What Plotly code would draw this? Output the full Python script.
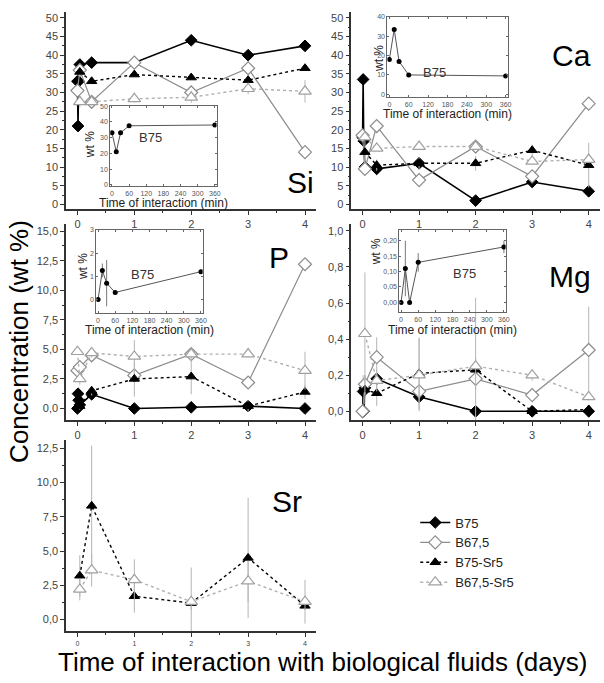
import plotly.graph_objects as go

W, H = 604, 683

# ---------------- data ----------------
# common time axis (days): 0, 15 min, 30 min, 1 h, 6 h, 1, 2, 3, 4 days
T_DAYS = [0, 0.0104, 0.0208, 0.0417, 0.25, 1, 2, 3, 4]
INSET_MIN = [0, 15, 30, 60, 360]
SERIES = ["B75", "B67,5", "B75-Sr5", "B67,5-Sr5"]

# Si
SI_B75 = [33, 21, 33, 37.5, 38, 38, 44, 40, 42.5]
SI_B675 = [30.5, None, None, 36, 27.5, 38, 30, 36.5, 14]
SI_B75SR = [None, None, None, 35.5, 33, 34.8, 34, 33.3, 36.5]
SI_B675SR = [None, None, None, 27.5, 27.5, 28.3, 28.7, 31, 30.3]
SI_ERR_B675SR = [0, 0, 0, 1.5, 1, 1, 1.5, 1.5, 3]

# Ca
CA_B75 = [18, 33.5, 17, 10, 9.5, 11, 1, 6, 3.5]
CA_B675 = [18.5, None, None, 9.5, 21, 6.5, 15.5, 7.5, 27]
CA_B75SR = [None, None, None, 14, 10.5, 11, 11, 14.5, 10.5]
CA_B675SR = [None, None, None, 18, 15, 15.5, 15.5, 11.5, 12]
CA_ERR_B75SR = [0, 0, 0, 3, 1.5, 1.5, 2, 1.5, 6]

# P
P_B75 = [0, 1.25, 0.7, 0.3, 1.2, 0, 0.1, 0.2, 0]
P_B675 = [3.2, None, None, 3.5, 4.5, 2.8, 4.6, 2.2, 12.2]
P_B75SR = [None, None, None, 0.2, 1.5, 2.5, 2.7, 0.2, 1.4]
P_B675SR = [4.8, None, None, 2.5, 4.7, 4.4, 4.6, 4.6, 3.2]
P_ERR_B75SR = [0, 0, 0, 0.3, 0.4, 1.5, 1.5, 0.5, 0.6]
P_ERR_B675SR = [0, 0, 0, 0.5, 0.4, 1.4, 0.6, 0.3, 1.6]

# Mg
MG_B75 = [0, 0.11, 0, 0.13, 0.18, 0.08, 0, 0, 0]
MG_B675 = [0.0, None, None, 0.15, 0.3, 0.11, 0.18, 0.09, 0.34]
MG_B75SR = [None, None, None, 0.12, 0.1, 0.21, 0.23, 0, 0.01]
MG_B675SR = [None, None, None, 0.43, 0.17, 0.2, 0.25, 0.2, 0.08]
MG_ERR_B75 = [0, 0.09, 0, 0.03, 0.02, 0, 0, 0, 0]
MG_ERR_B675 = [0, 0, 0, 0.05, 0.11, 0, 0.06, 0, 0.24]
MG_ERR_B75SR = [0, 0, 0, 0.08, 0.07, 0.2, 0.4, 0, 0]
MG_ERR_B675SR = [0, 0, 0, 0.34, 0.06, 0.2, 0.05, 0.03, 0.02]

# Sr
SR_B75SR = [None, None, None, 3.2, 8.3, 1.7, 1.2, 4.5, 1.0]
SR_B675SR = [None, None, None, 2.2, 3.6, 2.9, 1.3, 2.8, 1.3]
SR_ERR_B75SR = [0, 0, 0, 1.5, 4.4, 1.2, 0.5, 4.4, 0.3]
SR_ERR_B675SR = [0, 0, 0, 0.8, 1.2, 1.5, 2.5, 1.5, 1.6]

P_INSET_ERR = [0, 0.3, 1.0, 0.1, 0.1]
MG_INSET_ERR = [0, 0.09, 0, 0.03, 0.02]

# ---------------- styling ----------------
STYLE = {
    "B75": dict(line=dict(color="black", width=1.6, dash="solid"),
                marker=dict(symbol="diamond", size=9, color="black",
                            line=dict(color="black", width=1))),
    "B67,5": dict(line=dict(color="#8c8c8c", width=1.2, dash="solid"),
                  marker=dict(symbol="diamond", size=10, color="white",
                              line=dict(color="#8c8c8c", width=1.2))),
    "B75-Sr5": dict(line=dict(color="black", width=1.4, dash="dot"),
                    marker=dict(symbol="triangle-up", size=9, color="black",
                                line=dict(color="black", width=1))),
    "B67,5-Sr5": dict(line=dict(color="#b0b0b0", width=1.4, dash="dot"),
                      marker=dict(symbol="triangle-up", size=11, color="white",
                                  line=dict(color="#a0a0a0", width=1.2))),
}


def dom_x(a, b):
    return [a / W, min(b / W, 1.0)]


def dom_y(bottom, top):
    return [1 - bottom / H, 1 - top / H]


fig = go.Figure()

# main panels: (key, xdom px, ydom px, yrange, dtick, fmt, x tick size)
PANELS = [
    ("Si", (66.5, 318.5), (207, 8), [-1.3, 51.6], 5, "d", 11),
    ("Ca", (353.6, 604), (207, 8), [-1.3, 51.6], 5, "d", 11),
    ("P", (66.5, 318.5), (420, 222), [-1.0, 15.6], 2.5, ".1f", 11),
    ("Mg", (353.6, 604), (420, 222), [-0.05, 1.038], 0.2, ".1f", 11),
    ("Sr", (66.5, 318.5), (633, 440), [-0.87, 13.1], 2.5, ".1f", 7),
]
PANEL_DATA = {
    "Si": [("B75", SI_B75, None), ("B67,5", SI_B675, None),
           ("B75-Sr5", SI_B75SR, None), ("B67,5-Sr5", SI_B675SR, SI_ERR_B675SR)],
    "Ca": [("B75", CA_B75, None), ("B67,5", CA_B675, None),
           ("B75-Sr5", CA_B75SR, CA_ERR_B75SR), ("B67,5-Sr5", CA_B675SR, None)],
    "P": [("B75", P_B75, None), ("B67,5", P_B675, None),
          ("B75-Sr5", P_B75SR, P_ERR_B75SR), ("B67,5-Sr5", P_B675SR, P_ERR_B675SR)],
    "Mg": [("B75", MG_B75, MG_ERR_B75), ("B67,5", MG_B675, MG_ERR_B675),
           ("B75-Sr5", MG_B75SR, MG_ERR_B75SR), ("B67,5-Sr5", MG_B675SR, MG_ERR_B675SR)],
    "Sr": [("B75-Sr5", SR_B75SR, SR_ERR_B75SR), ("B67,5-Sr5", SR_B675SR, SR_ERR_B675SR)],
}
LABEL_POS = {"Si": (302, 180), "Ca": (575, 52), "P": (281, 256), "Mg": (574, 275), "Sr": (289, 502)}

FONT = "Liberation Sans, Arial, sans-serif"
annotations = []
layout_axes = {}

for i, (key, xd, yd, yr, dt, fmt, xts) in enumerate(PANELS, start=1):
    xa = "xaxis" if i == 1 else f"xaxis{i}"
    ya = "yaxis" if i == 1 else f"yaxis{i}"
    xr = "x" if i == 1 else f"x{i}"
    yrf = "y" if i == 1 else f"y{i}"
    layout_axes[xa] = dict(domain=dom_x(*xd), range=[-0.2, 4.2], anchor=yrf,
                           tickvals=[0, 1, 2, 3, 4], showline=True, linecolor="#333",
                           linewidth=1.5, ticks="outside", ticklen=4, tickcolor="#333",
                           showgrid=False, zeroline=False,
                           minor=dict(ticks="outside", ticklen=2, dtick=0.5, tickcolor="#333"),
                           tickfont=dict(size=xts, color="#444", family=FONT))
    layout_axes[ya] = dict(domain=dom_y(*yd), range=yr, anchor=xr, dtick=dt, tick0=0,
                           tickformat=fmt, showline=True, linecolor="#333", linewidth=1.5,
                           ticks="outside", ticklen=4, tickcolor="#333", showgrid=False,
                           zeroline=False,
                           minor=dict(ticks="outside", ticklen=2, dtick=dt / 2, tickcolor="#333"),
                           tickfont=dict(size=11, color="#444", family=FONT))
    for name, vals, err in PANEL_DATA[key]:
        st = STYLE[name]
        tr = dict(x=T_DAYS, y=vals, mode="lines+markers", name=name, legendgroup=name,
                  showlegend=(key == "Si"), connectgaps=True, xaxis=xr, yaxis=yrf,
                  line=st["line"], marker=st["marker"], cliponaxis=False)
        if err is not None:
            tr["error_y"] = dict(type="data", array=err, visible=True,
                                 color="#b5b5b5", thickness=1, width=0)
        fig.add_trace(go.Scatter(**tr))
    lx, ly = LABEL_POS[key]
    annotations.append(dict(x=lx / W, y=1 - ly / H, xref="paper", yref="paper",
                            text=key, showarrow=False, xanchor="center", yanchor="middle",
                            font=dict(size=30, color="black", family=FONT)))

# insets: (panel data, err, xdom px, ydom px, yrange, dtick, fmt, B75 label pos, title y, wt% pos)
INSETS = [
    (SI_B75, None, (111, 218), (184, 103), [-1, 50], 10, "d", (152, 135), 201, (90, 142)),
    (CA_B75, None, (390, 511), (94, 13), [-1.5, 40], 10, "d", (437, 69), 111, (381, 55)),
    (P_B75, P_INSET_ERR, (97, 204), (312, 228), [-0.6, 3], 1, "d", (143, 273), 329, (83, 265)),
    (MG_B75, MG_INSET_ERR, (402, 509), (311, 228), [-0.032, 0.235], 0.05, ".2f", (468, 272), 329, (378, 250)),
]
for j, (vals, err, xd, yd, yr, dt, fmt, lab, ty, wp) in enumerate(INSETS, start=6):
    xa, ya = f"xaxis{j}", f"yaxis{j}"
    xr, yrf = f"x{j}", f"y{j}"
    layout_axes[xa] = dict(domain=dom_x(*xd), range=[-6, 366], anchor=yrf,
                           tickvals=[0, 60, 120, 180, 240, 300, 360], showline=True,
                           mirror="allticks", linecolor="#666", linewidth=1, ticks="inside",
                           ticklen=2, tickcolor="#666", showgrid=False, zeroline=False,
                           tickfont=dict(size=7, color="#555", family=FONT))
    layout_axes[ya] = dict(domain=dom_y(*yd), range=yr, anchor=xr, dtick=dt, tick0=0,
                           tickformat=fmt, showline=True, mirror="allticks", linecolor="#666",
                           linewidth=1, ticks="inside", ticklen=2, tickcolor="#666",
                           showgrid=False, zeroline=False,
                           tickfont=dict(size=7, color="#555", family=FONT))
    tr = dict(x=INSET_MIN, y=vals[:5], mode="lines+markers", showlegend=False,
              xaxis=xr, yaxis=yrf, line=dict(color="#555", width=1),
              marker=dict(symbol="circle", size=5, color="black"))
    if err is not None:
        tr["error_y"] = dict(type="data", array=err, visible=True, color="#777",
                             thickness=1, width=0)
    fig.add_trace(go.Scatter(**tr))
    annotations.append(dict(x=lab[0] / W, y=1 - lab[1] / H, xref="paper", yref="paper",
                            text="B75", showarrow=False, xanchor="center", yanchor="middle",
                            font=dict(size=13, color="#333", family=FONT)))
    cx = (xd[0] + xd[1]) / 2
    annotations.append(dict(x=cx / W, y=1 - ty / H, xref="paper", yref="paper",
                            text="Time of interaction (min)", showarrow=False,
                            xanchor="center", yanchor="middle",
                            font=dict(size=12, color="#222", family=FONT)))
    annotations.append(dict(x=wp[0] / W, y=1 - wp[1] / H, xref="paper", yref="paper",
                            text="wt %", textangle=-90, showarrow=False,
                            xanchor="center", yanchor="middle",
                            font=dict(size=12, color="#222", family=FONT)))

# axis titles
annotations.append(dict(x=19 / W, y=1 - 340 / H, xref="paper", yref="paper",
                        text="Concentration (wt %)", textangle=-90, showarrow=False,
                        xanchor="center", yanchor="middle",
                        font=dict(size=26, color="black", family=FONT)))
annotations.append(dict(x=325 / W, y=1 - 664 / H, xref="paper", yref="paper",
                        text="Time of interaction with biological fluids (days)",
                        showarrow=False, xanchor="center", yanchor="middle",
                        font=dict(size=26, color="black", family=FONT)))

fig.update_layout(
    width=W, height=H, margin=dict(l=0, r=0, t=0, b=0),
    paper_bgcolor="white", plot_bgcolor="rgba(0,0,0,0)",
    separators=",.",
    font=dict(family=FONT, color="#222"),
    annotations=annotations,
    showlegend=True,
    legend=dict(x=418 / W, y=1 - 508 / H, xanchor="left", yanchor="top",
                font=dict(size=13, color="#222", family=FONT),
                bgcolor="rgba(0,0,0,0)", tracegroupgap=0, itemwidth=30),
    **layout_axes,
)

fig.write_html("out.html", config={"displayModeBar": False},
               post_script="document.body.style.margin='0';document.body.style.overflow='hidden';")
